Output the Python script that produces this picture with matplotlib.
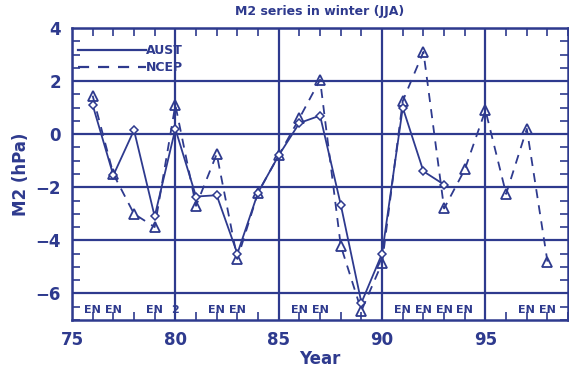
import numpy as np
import matplotlib.pyplot as plt
from matplotlib.lines import Line2D
from matplotlib.ticker import MultipleLocator

# M2 index in winter (JJA)
aust_years = [76, 77, 78, 79, 80, 81, 82, 83, 84, 85, 86, 87, 88, 89, 90, 91, 92, 93]
aust_m2 = [1.1, -1.55, 0.15, -3.1, 0.2, -2.35, -2.3, -4.5, -2.2, -0.8, 0.42, 0.7,
           -2.65, -6.35, -4.5, 1.0, -1.4, -1.9]

ncep_years = [76, 77, 78, 79, 80, 81, 82, 83, 84, 85, 86, 87, 88, 89, 90, 91, 92,
              93, 94, 95, 96, 97, 98]
ncep_m2 = [1.45, -1.5, -3.0, -3.5, 1.1, -2.7, -0.75, -4.7, -2.2, -0.8, 0.6, 2.05,
           -4.2, -6.65, -4.85, 1.25, 3.1, -2.8, -1.33, 0.9, -2.25, 0.2, -4.8]

# El Nino marks along the bottom
en_years = [76, 77, 79, 80, 82, 83, 86, 87, 91, 92, 93, 94, 97, 98]
en_text = ['EN', 'EN', 'EN', '2', 'EN', 'EN', 'EN', 'EN', 'EN', 'EN', 'EN', 'EN', 'EN', 'EN']

col = '#2e3a8e'
plt.rcParams['font.family'] = 'DejaVu Sans'
plt.rcParams['font.weight'] = 'bold'

fig = plt.figure(figsize=(5.69, 3.72), dpi=100)
ax = fig.add_axes([0.1265, 0.1398, 0.872, 0.785])

ax.plot(aust_years, aust_m2, color=col, lw=1.3, marker='D', ms=4,
        mfc='white', mec=col, mew=1.1, zorder=4)
ax.plot(ncep_years, ncep_m2, color=col, lw=1.3, ls=(0, (5, 4)), marker='^', ms=7.5,
        mfc='none', mec=col, mew=1.3, zorder=3)

for yr, t in zip(en_years, en_text):
    ax.text(yr, -6.62, t, color=col, fontsize=8, fontweight='bold',
            ha='center', va='center')

ax.set_xlim(75, 99)
ax.set_ylim(-7, 4)
ax.xaxis.set_major_locator(MultipleLocator(5))
ax.xaxis.set_minor_locator(MultipleLocator(1))
ax.yaxis.set_major_locator(MultipleLocator(2))
ax.yaxis.set_minor_locator(MultipleLocator(0.5))
ax.grid(True, which='major', color=col, lw=1.6)
ax.tick_params(which='both', direction='in', colors=col, labelcolor=col,
               top=True, right=True, labelsize=12)
ax.tick_params(which='major', length=0, pad=8)
ax.tick_params(which='minor', length=6, width=1.2)
ax.set_yticks([-6, -4, -2, 0, 2, 4])
ax.set_yticklabels(['\u22126', '\u22124', '\u22122', '0', '2', '4'])
for s in ax.spines.values():
    s.set_color(col)
    s.set_linewidth(1.8)

ax.set_title('M2 series in winter (JJA)', color=col, fontsize=9,
             fontweight='bold', pad=9)
ax.set_xlabel('Year', color=col, fontsize=12, fontweight='bold', labelpad=1)
ax.set_ylabel('M2 (hPa)', color=col, fontsize=12, fontweight='bold', labelpad=4)

handles = [Line2D([], [], color=col, lw=1.6),
           Line2D([], [], color=col, lw=1.6, ls=(0, (5, 4)))]
leg = ax.legend(handles, ['AUST', 'NCEP'], loc='upper left', frameon=False,
                bbox_to_anchor=(-0.005, 0.975), handlelength=5.4,
                handletextpad=0.05, borderaxespad=0.3, labelspacing=0.35,
                prop={'weight': 'bold', 'size': 9})
for t in leg.get_texts():
    t.set_color(col)

fig.savefig('out.png', dpi=100)
